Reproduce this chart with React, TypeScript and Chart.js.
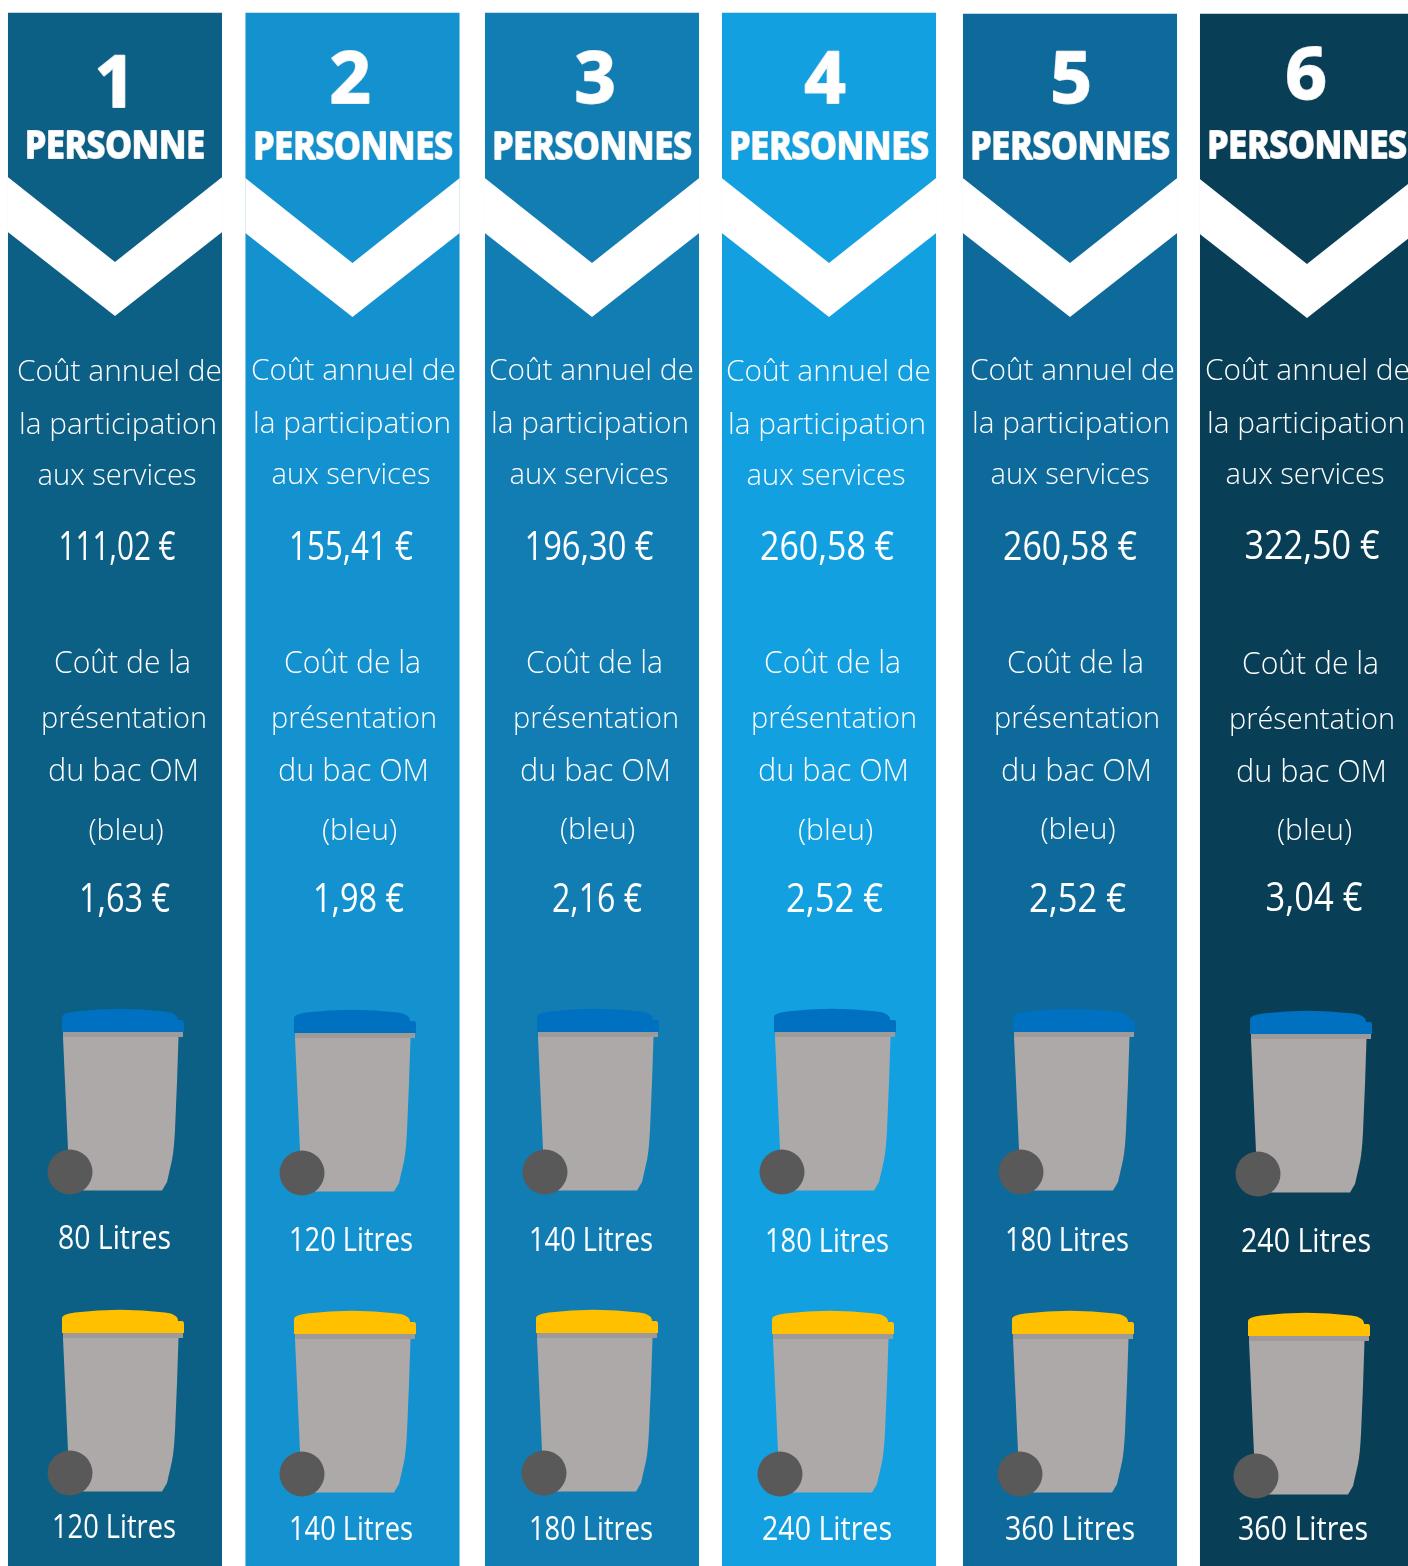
import React, { useEffect, useRef } from "react";
import { Chart, registerables } from "chart.js";

Chart.register(...registerables);

// ---- data ----
const householdSizes = ["1", "2", "3", "4", "5", "6"];
const householdWords = ["PERSONNE", "PERSONNES", "PERSONNES", "PERSONNES", "PERSONNES", "PERSONNES"];
const annualCost = ["111,02 €", "155,41 €", "196,30 €", "260,58 €", "260,58 €", "322,50 €"];
const binCost = ["1,63 €", "1,98 €", "2,16 €", "2,52 €", "2,52 €", "3,04 €"];
const blueBinLitres = ["80 Litres", "120 Litres", "140 Litres", "180 Litres", "180 Litres", "240 Litres"];
const yellowBinLitres = ["120 Litres", "140 Litres", "180 Litres", "240 Litres", "360 Litres", "360 Litres"];
const annualLines = ["Coût annuel de", "la participation", "aux services"];
const binLines = ["Coût de la", "présentation", "du bac OM", "(bleu)"];
const columnColours = ["#0c5f85", "#1492cf", "#117db3", "#12a0e0", "#0e6a9a", "#083f57"];

// ---- axis units are the picture's own pixels ----
const columnCentres = [115, 352.5, 592, 829, 1070, 1307];
const columnHeights = [1553, 1553, 1553, 1553, 1552, 1552];
const COLUMN_WIDTH = 213.4;
const H = 1566;

const digitX = [115, 350, 595, 825, 1071, 1306];
const digitBase = [107, 103, 103, 103, 103, 99];
const wordBase = [158, 159, 159, 159, 159, 158];
const wordX = [115, 353, 592, 829, 1070, 1307];
const annualX = [119.5, 353.5, 591.5, 828.5, 1072.5, 1307.5];
const annualBase = [381, 380, 380, 381, 380, 380];
const annualLineDx = [0, -1.5, -2.5];
const annualLineDy = [0, 53, 104];
const annualLineWidth = [205, 198, 159];
const priceX = [117, 351, 589, 827, 1070, 1312];
const priceBase = [560, 560, 560, 560, 560, 559];
const priceWidth = [117, 124, 129, 134, 134, 135];
const binX = [122.5, 352.5, 594.5, 832.5, 1075.5, 1310.5];
const binBase = [673, 673, 673, 673, 673, 674];
const binLineDx = [0, 1.5, 1];
const bleuX = [126, 359.5, 597.5, 835.5, 1078, 1314.5];
const binLineDy = [0, 55, 108];
const binLineSize = [30.5, 30, 30.8];
const binLineWidth = [137, 166, 151];
const bleuBase = [840, 840, 839, 840, 839, 840];
const costX = [124.5, 358.5, 597, 834.5, 1077.5, 1314];
const costBase = [912, 912, 912, 912, 912, 911];
const costWidth = [91, 91, 90, 97, 97, 97];
const blueLabelX = [114.5, 351, 591, 827, 1067, 1306];
const blueLabelBase = [1248.5, 1250.5, 1250.5, 1251.5, 1250.5, 1251.5];
const blueLabelWidth = [113, 124, 124, 124, 124, 130];
const yellowLabelX = [114, 351, 591, 827, 1070, 1303];
const yellowLabelBase = [1538, 1540, 1540, 1540, 1540, 1540];
const yellowLabelWidth = [124, 124, 124, 130, 130, 130];
const blueWheel: [number, number][] = [[70, 1172], [302, 1173], [545, 1172], [782, 1172], [1021, 1172], [1258, 1174]];
const yellowWheel: [number, number][] = [[70, 1473], [302, 1474], [544, 1473], [780, 1474], [1020, 1474], [1256, 1476]];
const chevronTop = [177, 178, 178, 178, 178, 179];

const LIGHT = "Open Sans";

function drawBin(ctx: CanvasRenderingContext2D, wx: number, wy: number, lid: string) {
  // body
  ctx.fillStyle = "#ada9a8";
  ctx.beginPath();
  ctx.moveTo(wx - 7, wy - 135);
  ctx.lineTo(wx + 108.5, wy - 135);
  ctx.lineTo(wx + 107, wy - 90);
  ctx.lineTo(wx + 105, wy - 42);
  ctx.quadraticCurveTo(wx + 104, wy - 22, wx + 102, wy - 12);
  ctx.lineTo(wx + 97, wy + 10);
  ctx.lineTo(wx + 92, wy + 18.5);
  ctx.lineTo(wx + 13, wy + 18.5);
  ctx.lineTo(wx - 1, wy);
  ctx.closePath();
  ctx.fill();
  // rim
  ctx.fillStyle = "#9e9a99";
  ctx.fillRect(wx - 7, wy - 140, 120, 5);
  // lid
  ctx.fillStyle = lid;
  ctx.beginPath();
  ctx.moveTo(wx - 8, wy - 140);
  ctx.lineTo(wx - 8, wy - 155);
  ctx.quadraticCurveTo(wx - 8, wy - 159, wx + 5, wy - 160.5);
  ctx.quadraticCurveTo(wx + 50, wy - 166, wx + 95, wy - 160.5);
  ctx.quadraticCurveTo(wx + 108, wy - 159, wx + 108, wy - 152);
  ctx.lineTo(wx + 112, wy - 152);
  ctx.quadraticCurveTo(wx + 114, wy - 152, wx + 114, wy - 149);
  ctx.lineTo(wx + 114, wy - 140);
  ctx.closePath();
  ctx.fill();
  // wheel
  ctx.fillStyle = "#595959";
  ctx.beginPath();
  ctx.arc(wx, wy, 22.5, 0, Math.PI * 2);
  ctx.fill();
}

const infographic = {
  id: "infographic",
  afterDatasetsDraw(chart: any) {
    const { ctx, scales } = chart;
    const X = (v: number) => scales.x.getPixelForValue(v);
    const Y = (v: number) => scales.y.getPixelForValue(H - v);
    ctx.save();
    ctx.textAlign = "center";
    ctx.textBaseline = "alphabetic";
    const text = (s: string, x: number, y: number, font: string, maxW?: number) => {
      ctx.font = font;
      ctx.fillStyle = "#ffffff";
      if (maxW) ctx.fillText(s, X(x), Y(y), maxW);
      else ctx.fillText(s, X(x), Y(y));
    };
    const heavy = (s: string, x: number, y: number, font: string, maxW?: number) => {
      ctx.font = font;
      ctx.lineJoin = "round";
      ctx.lineWidth = 2;
      ctx.strokeStyle = "#eeeeee";
      ctx.fillStyle = "#ffffff";
      if (maxW) {
        ctx.strokeText(s, X(x), Y(y), maxW);
        ctx.fillText(s, X(x), Y(y), maxW);
      } else {
        ctx.strokeText(s, X(x), Y(y));
        ctx.fillText(s, X(x), Y(y));
      }
    };
    householdSizes.forEach((n, i) => {
      const c = columnCentres[i];
      const half = COLUMN_WIDTH / 2;
      // white chevron
      const t = chevronTop[i];
      ctx.fillStyle = "#ffffff";
      ctx.beginPath();
      ctx.moveTo(X(c - half - 0.5), Y(t));
      ctx.lineTo(X(c), Y(t + 85));
      ctx.lineTo(X(c + half + 0.5), Y(t));
      ctx.lineTo(X(c + half + 0.5), Y(t + 55));
      ctx.lineTo(X(c), Y(t + 139));
      ctx.lineTo(X(c - half - 0.5), Y(t + 55));
      ctx.closePath();
      ctx.fill();

      heavy(n, digitX[i], digitBase[i], "700 72px 'Open Sans'");
      heavy(householdWords[i], wordX[i], wordBase[i], "700 37px 'Open Sans'", i === 0 ? 180 : 199.5);

      annualLines.forEach((line, k) => {
        text(line, annualX[i] + annualLineDx[k], annualBase[i] + annualLineDy[k], `300 30px '${LIGHT}'`, annualLineWidth[k]);
      });
      text(annualCost[i], priceX[i], priceBase[i], `400 41px '${LIGHT}'`, priceWidth[i]);
      binLines.slice(0, 3).forEach((line, k) => {
        text(line, binX[i] + binLineDx[k], binBase[i] + binLineDy[k], `300 ${binLineSize[k]}px '${LIGHT}'`, binLineWidth[k]);
      });
      text(binLines[3], bleuX[i], bleuBase[i], `300 30px '${LIGHT}'`);
      text(binCost[i], costX[i], costBase[i], `400 41px '${LIGHT}'`, costWidth[i]);

      drawBin(ctx, X(blueWheel[i][0]), Y(blueWheel[i][1]), "#0070c0");
      drawBin(ctx, X(yellowWheel[i][0]), Y(yellowWheel[i][1]), "#ffc000");

      text(blueBinLitres[i], blueLabelX[i], blueLabelBase[i], `400 33px '${LIGHT}'`, blueLabelWidth[i]);
      text(yellowBinLitres[i], yellowLabelX[i], yellowLabelBase[i], `400 33px '${LIGHT}'`, yellowLabelWidth[i]);
    });
    ctx.restore();
  },
};

export default function App() {
  const ref = useRef<HTMLCanvasElement>(null);
  useEffect(() => {
    const chart = new Chart(ref.current!, {
      type: "bar",
      data: {
        labels: householdSizes,
        datasets: [
          {
            data: columnCentres.map((x, i) => ({ x, y: columnHeights[i] })),
            backgroundColor: columnColours,
            borderWidth: 0,
            barThickness: COLUMN_WIDTH,
          },
        ],
      },
      options: {
        animation: false,
        responsive: false,
        devicePixelRatio: 1,
        layout: { padding: 0 },
        plugins: { legend: { display: false }, title: { display: false }, tooltip: { enabled: false } },
        scales: {
          x: { type: "linear", min: 0, max: 1408, offset: false, display: false },
          y: { type: "linear", min: 0, max: H, display: false },
        },
      },
      plugins: [infographic],
    } as any);
    return () => chart.destroy();
  }, []);
  return (
    <div style={{ position: "absolute", left: 0, top: 0, width: 1408, height: 1566, background: "#fff" }}>
      <canvas ref={ref} width={1408} height={1566} style={{ display: "block" }} />
    </div>
  );
}
